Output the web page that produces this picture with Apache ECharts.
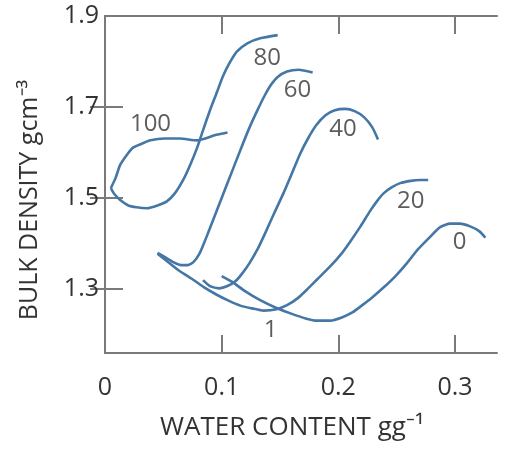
<!DOCTYPE html>
<html>
<head>
<meta charset="utf-8">
<script src="https://cdn.jsdelivr.net/npm/echarts@6/dist/echarts.min.js"></script>
<style>
  html, body { margin: 0; padding: 0; background: #fff; }
  #main { width: 507px; height: 465px; }
</style>
</head>
<body>
<div id="main"></div>
<script>
  // 每条曲线 [含水量, 容重]
  var curve100 = [[0.005,1.522],[0.009,1.544],[0.013,1.573],[0.019,1.596],[0.024,1.611],[0.032,1.620],[0.039,1.627],[0.051,1.631],[0.064,1.631],[0.079,1.627],[0.086,1.631],[0.094,1.638],[0.105,1.644]];
  var curve80 = [[0.005,1.522],[0.008,1.509],[0.013,1.496],[0.020,1.484],[0.027,1.480],[0.036,1.478],[0.045,1.484],[0.053,1.493],[0.060,1.511],[0.067,1.540],[0.073,1.573],[0.079,1.611],[0.084,1.649],[0.090,1.693],[0.096,1.733],[0.101,1.767],[0.107,1.798],[0.113,1.822],[0.122,1.840],[0.133,1.851],[0.148,1.858]];
  var curve60 = [[0.045,1.380],[0.051,1.371],[0.058,1.360],[0.065,1.353],[0.071,1.353],[0.076,1.360],[0.081,1.378],[0.085,1.402],[0.089,1.428],[0.096,1.474],[0.103,1.520],[0.110,1.566],[0.117,1.612],[0.124,1.656],[0.131,1.695],[0.137,1.726],[0.142,1.748],[0.148,1.766],[0.156,1.778],[0.166,1.782],[0.178,1.776]];
  var curve40 = [[0.084,1.320],[0.090,1.307],[0.098,1.302],[0.105,1.307],[0.112,1.318],[0.118,1.336],[0.124,1.358],[0.131,1.389],[0.138,1.427],[0.145,1.467],[0.153,1.511],[0.160,1.553],[0.167,1.596],[0.174,1.631],[0.181,1.660],[0.189,1.682],[0.197,1.693],[0.206,1.696],[0.214,1.691],[0.222,1.678],[0.229,1.656],[0.234,1.629]];
  var curve20 = [[0.045,1.378],[0.054,1.360],[0.064,1.340],[0.075,1.322],[0.085,1.304],[0.095,1.289],[0.105,1.276],[0.116,1.264],[0.126,1.258],[0.136,1.253],[0.147,1.256],[0.156,1.265],[0.165,1.280],[0.173,1.299],[0.182,1.322],[0.193,1.350],[0.202,1.376],[0.210,1.404],[0.219,1.438],[0.227,1.471],[0.233,1.493],[0.239,1.511],[0.246,1.524],[0.253,1.533],[0.262,1.538],[0.270,1.540],[0.277,1.540]];
  var curve0 = [[0.100,1.329],[0.109,1.316],[0.120,1.296],[0.133,1.276],[0.146,1.260],[0.159,1.247],[0.172,1.236],[0.182,1.231],[0.193,1.231],[0.203,1.238],[0.212,1.249],[0.220,1.264],[0.229,1.282],[0.238,1.302],[0.249,1.329],[0.259,1.358],[0.268,1.387],[0.279,1.416],[0.287,1.436],[0.296,1.444],[0.304,1.444],[0.313,1.438],[0.321,1.427],[0.326,1.413]];

  // 曲线标注 [x, y, 文字]
  var curveLabels = [[0.039,1.662,'100'],[0.139,1.807,'80'],[0.165,1.738,'60'],[0.204,1.651,'40'],[0.262,1.493,'20'],[0.304,1.404,'0'],[0.142,1.211,'1']];

  var xLabelValues = [0, 0.1, 0.2, 0.3];
  var xTickValues = [0.1, 0.2, 0.3];
  var yLabelValues = [1.3, 1.5, 1.7, 1.9];
  var yTickValues = [1.3, 1.5, 1.7];

  var frameColor = '#7a7a7a';
  var lineColor = '#4577a6';
  var textColor = '#333';
  var font = '"Open Sans", sans-serif';

  function curve(data) {
    return {
      type: 'line',
      data: data,
      smooth: 0.2,
      showSymbol: false,
      lineStyle: { color: lineColor, width: 2.6 },
      silent: true
    };
  }

  var myChart = echarts.init(document.getElementById('main'));
  myChart.setOption({
    animation: false,
    grid: { left: 105, right: 10, top: 16, bottom: 112 },
    xAxis: [
      {
        type: 'value', min: 0, max: 0.336, position: 'bottom',
        axisLine: { show: true, lineStyle: { color: frameColor, width: 2 } },
        axisTick: { show: true, inside: true, length: 18, customValues: xTickValues, lineStyle: { color: frameColor, width: 2 } },
        axisLabel: { customValues: xLabelValues, color: textColor, fontSize: 25, fontFamily: font, margin: 22,
          formatter: function (v) { return v === 0 ? '0' : v.toFixed(1); } },
        splitLine: { show: false }
      },
      {
        type: 'value', min: 0, max: 0.336, position: 'top',
        axisLine: { show: true, lineStyle: { color: frameColor, width: 2 } },
        axisTick: { show: true, inside: true, length: 18, customValues: xTickValues, lineStyle: { color: frameColor, width: 2 } },
        axisLabel: { show: false },
        splitLine: { show: false }
      }
    ],
    yAxis: [
      {
        type: 'value', min: 1.16, max: 1.9, position: 'left',
        axisLine: { show: true, lineStyle: { color: frameColor, width: 2 } },
        axisTick: { show: true, inside: true, length: 18, customValues: yTickValues, lineStyle: { color: frameColor, width: 2 } },
        axisLabel: { customValues: yLabelValues, color: textColor, fontSize: 25, fontFamily: font, margin: 6,
          formatter: function (v) { return v.toFixed(1); } },
        splitLine: { show: false }
      },
      {
        type: 'value', min: 1.16, max: 1.9, position: 'right',
        axisLine: { show: true, lineStyle: { color: frameColor, width: 2 } },
        axisTick: { show: true, inside: true, length: 15, customValues: yTickValues, lineStyle: { color: frameColor, width: 2 } },
        axisLabel: { show: false },
        splitLine: { show: false }
      }
    ],
    graphic: [
      {
        type: 'text', x: 292, y: 428,
        style: { text: 'WATER CONTENT gg\u207B\u00B9', fill: textColor, font: '26px ' + font, align: 'center', verticalAlign: 'middle' }
      },
      {
        type: 'text', x: 30, y: 200, rotation: Math.PI / 2,
        style: { text: 'BULK DENSITY gcm\u207B\u00B3', fill: textColor, font: '25px ' + font, align: 'center', verticalAlign: 'middle' }
      }
    ],
    series: [
      curve(curve100), curve(curve80), curve(curve60), curve(curve40), curve(curve20), curve(curve0),
      {
        type: 'scatter',
        data: curveLabels,
        symbolSize: 0,
        silent: true,
        label: {
          show: true, position: 'inside', color: textColor, fontSize: 24, fontFamily: font,
          textBorderWidth: 0,
          formatter: function (p) { return p.value[2]; }
        }
      }
    ]
  });
</script>
</body>
</html>
